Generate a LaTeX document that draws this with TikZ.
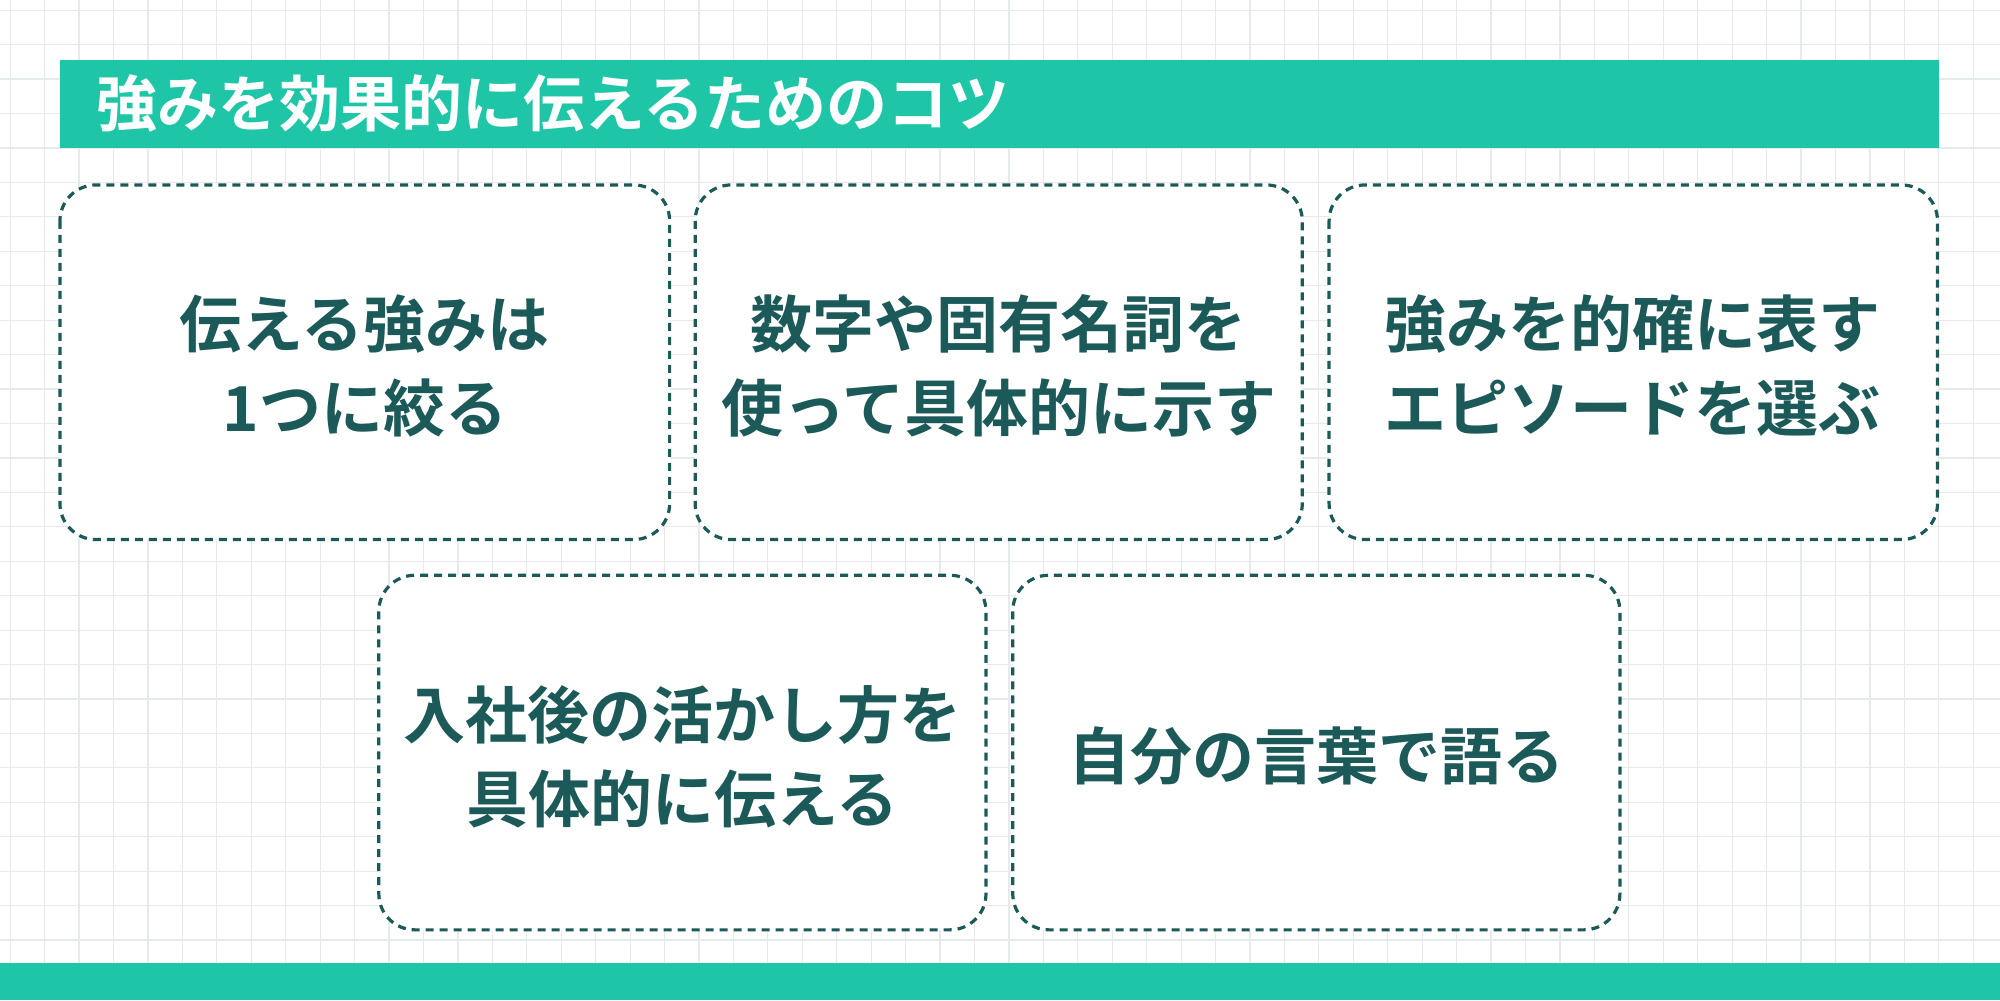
\documentclass[tikz,border=0pt]{standalone}
\usepackage{fontspec}
\setmainfont{Noto Sans CJK JP Bold}
\definecolor{teal1}{HTML}{1EC6A7}
\definecolor{dk}{HTML}{1B5A58}
\definecolor{gridc}{HTML}{E6EAEA}
\begin{document}
\begin{tikzpicture}[x=0.6378pt,y=-0.6378pt,
 card/.style={draw=dk,line width=1.6pt,dashed,dash pattern=on 4pt off 3pt,rounded corners=18pt,fill=white},
 ctext/.style={text=dk,font=\fontsize{31}{42}\selectfont,align=center}]
\useasboundingbox (0,0) rectangle (1568,784);
\fill[white] (0,0) rectangle (1568,784);
\foreach \i in {0,...,58}{\draw[gridc,line width=0.6pt] (\i*27+8,0)--(\i*27+8,784);}
\foreach \j in {0,...,29}{\draw[gridc,line width=0.6pt] (0,\j*27+8)--(1568,\j*27+8);}
\fill[teal1] (47,47) rectangle (1520,116);
\node[anchor=west,text=white,font=\fontsize{30.5}{34}\selectfont] (title) at (70,81) {強みを効果的に伝えるためのコツ};
\fill[teal1] (0,755) rectangle (1568,784);
\draw[card] (47,145) rectangle (525,423);
\draw[card] (545,145) rectangle (1021,423);
\draw[card] (1042,145) rectangle (1519,423);
\draw[card] (297,451) rectangle (773,729);
\draw[card] (794,451) rectangle (1270,729);
\node[ctext] (a) at (286,287) {伝える強みは\\1つに絞る};
\node[ctext] (b) at (783,287) {数字や固有名詞を\\使って具体的に示す};
\node[ctext] (c) at (1280,287) {強みを的確に表す\\エピソードを選ぶ};
\node[ctext] (d) at (535,593) {入社後の活かし方を\\具体的に伝える};
\node[ctext] (e) at (1032,593) {自分の言葉で語る};
\end{tikzpicture}
\end{document}
